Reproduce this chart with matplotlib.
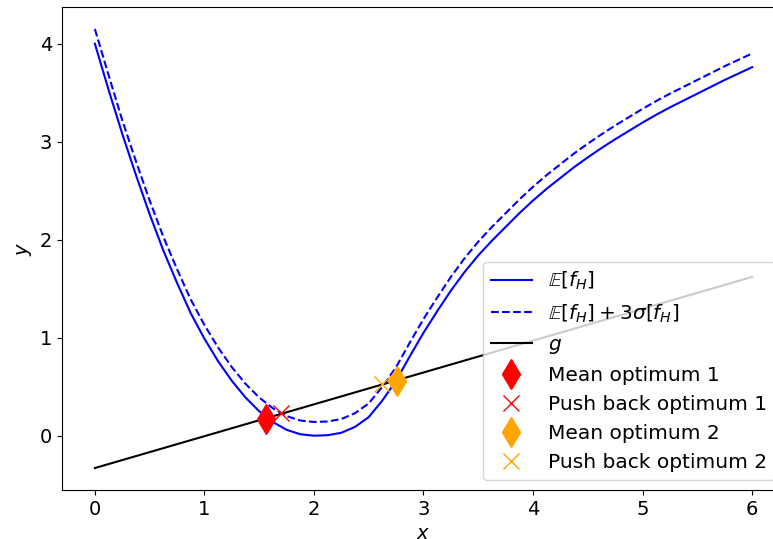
import matplotlib
matplotlib.use('Agg')
import matplotlib.pyplot as plt

plt.rcParams['font.size'] = 14

# Curves (x, mean, mean + 3 sigma)
x = [0.0, 0.125, 0.25, 0.375, 0.5, 0.625, 0.75, 0.875, 1.0, 1.125, 1.25, 1.375,
     1.5, 1.625, 1.75, 1.875, 2.0, 2.125, 2.25, 2.375, 2.5, 2.625, 2.75, 2.875,
     3.0, 3.125, 3.25, 3.375, 3.5, 3.625, 3.75, 3.875, 4.0, 4.125, 4.25, 4.375,
     4.5, 4.625, 4.75, 4.875, 5.0, 5.125, 5.25, 5.375, 5.5, 5.625, 5.75, 5.875, 6.0]
mean_f = [4.00, 3.53, 3.08, 2.66, 2.26, 1.89, 1.56, 1.25, 0.99, 0.76, 0.56, 0.39,
          0.25, 0.14, 0.06, 0.015, 0.00, 0.005, 0.03, 0.09, 0.19, 0.36, 0.56, 0.81,
          1.05, 1.27, 1.48, 1.67, 1.84, 1.99, 2.13, 2.27, 2.40, 2.52, 2.63, 2.74,
          2.84, 2.935, 3.025, 3.11, 3.195, 3.275, 3.35, 3.42, 3.49, 3.56, 3.63, 3.695, 3.76]
upper_f = [4.15, 3.68, 3.22, 2.80, 2.40, 2.03, 1.70, 1.39, 1.13, 0.90, 0.70, 0.53,
           0.39, 0.28, 0.20, 0.155, 0.14, 0.145, 0.17, 0.23, 0.33, 0.50, 0.70, 0.95,
           1.19, 1.41, 1.62, 1.81, 1.98, 2.13, 2.27, 2.41, 2.54, 2.66, 2.77, 2.88,
           2.98, 3.075, 3.165, 3.25, 3.335, 3.415, 3.49, 3.56, 3.63, 3.70, 3.77, 3.835, 3.90]

# constraint line g
g_x = [0.0, 6.0]
g_y = [-0.33, 1.62]

# optima
mean_opt1 = (1.56, 0.17)
push_opt1 = (1.70, 0.23)
mean_opt2 = (2.76, 0.56)
push_opt2 = (2.62, 0.53)

fig = plt.figure(figsize=(7.73, 5.39), dpi=100)
ax = fig.add_axes([0.0802, 0.0909, 0.9353, 0.8961])

ax.plot(x, mean_f, color='blue', lw=1.5, label=r'$\mathbb{E}[f_H]$')
ax.plot(x, upper_f, color='blue', lw=1.5, ls='--', label=r'$\mathbb{E}[f_H] + 3\sigma[f_H]$')
ax.plot(g_x, g_y, color='black', lw=1.5, label='$g$')
ax.plot(*mean_opt1, 'd', color='red', ms=15, ls='none', label='Mean optimum 1')
ax.plot(*push_opt1, 'x', color='red', ms=11, ls='none', label='Push back optimum 1')
ax.plot(*mean_opt2, 'd', color='orange', ms=15, ls='none', label='Mean optimum 2')
ax.plot(*push_opt2, 'x', color='orange', ms=11, ls='none', label='Push back optimum 2')

ax.set_xlabel('$x$')
ax.set_ylabel('$y$')
ax.legend(loc='lower right', fontsize=14.5)

fig.savefig('out.png', dpi=100)
